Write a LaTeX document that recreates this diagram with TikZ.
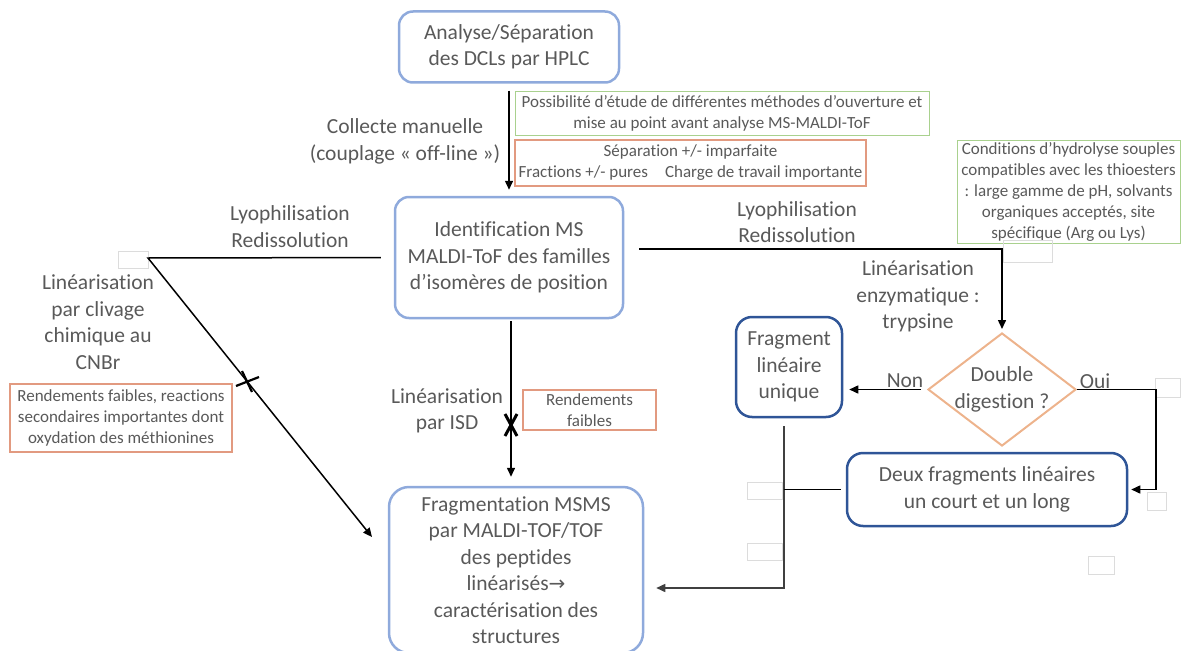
\documentclass[tikz,border=0pt]{standalone}
\usepackage{fontspec}
\setmainfont{Carlito}[Ligatures=NoCommon]
\newfontfamily\symbfont{DejaVu Sans}
\usetikzlibrary{arrows.meta,positioning,shapes.geometric}
\definecolor{txt}{HTML}{595959}
\definecolor{lblue}{HTML}{8FAADC}
\definecolor{dblue}{HTML}{2F5597}
\definecolor{okgreen}{HTML}{A9D18E}
\definecolor{warnred}{HTML}{E29A80}
\definecolor{tan}{HTML}{EDB38C}
\definecolor{ghost}{HTML}{DCDCDC}

\begin{document}
\begin{tikzpicture}[x=1pt, y=-1pt,
   every node/.style={text=txt},
   big/.style={font=\fontsize{21.5}{26.5}\selectfont, align=center},
   note/.style={font=\fontsize{17}{21}\selectfont, align=center},
   stepbox/.style={draw=lblue, line width=2.5pt, rounded corners=14pt, big, inner sep=0pt},
   fragbox/.style={draw=dblue, line width=2.5pt, rounded corners=16pt, big, inner sep=0pt},
   okbox/.style={draw=okgreen, line width=1pt, note, inner sep=0pt},
   badbox/.style={draw=warnred, line width=1.2pt, note, inner sep=0pt},
   ghostbox/.style={draw=ghost, line width=0.8pt, inner sep=0pt},
   arr/.style={-{Triangle[length=9pt,width=8pt]}, line width=1.5pt},
   line/.style={line width=1.5pt}]
   \useasboundingbox (0,0) rectangle (1182,650);

   % main steps
   \node[stepbox, minimum width=220, minimum height=71] (hplc) at (509,47) {Analyse/Séparation\\des DCLs par HPLC};
   \node[stepbox, minimum width=228, minimum height=121] (maldi) at (509,257.5) {Identification MS\\MALDI-ToF des familles\\d’isomères de position};
   \node[stepbox, rounded corners=20pt, minimum width=254, minimum height=166] (msms) at (516,570) {Fragmentation MSMS\\par MALDI-TOF/TOF\\des peptides\\linéarisés{\symbfont\fontsize{20}{26}\selectfont →}\\caractérisation des\\structures};
   \node[draw=tan, line width=2pt, diamond, minimum width=148, minimum height=113, inner sep=-16pt, big] (dbl) at (1002,389.5) {Double\\digestion ?};
   \node[fragbox, minimum width=106, minimum height=100] (uniq) at (789,367) {Fragment\\linéaire\\unique};
   \node[fragbox, minimum width=280, minimum height=73] (deux) at (987,489.5) {Deux fragments linéaires\\un court et un long};

   % remarks
   \node[okbox, minimum width=414, minimum height=43] (open) at (722,113.5) {Possibilité d’étude de différentes méthodes d’ouverture et\\mise au point avant analyse MS-MALDI-ToF};
   \node[badbox, minimum width=351, minimum height=46] (sep) at (690.5,163) {Séparation +/- imparfaite\\Fractions +/- pures\quad Charge de travail importante};
   \node[okbox, minimum width=223, minimum height=103] (soft) at (1068.5,191.5) {Conditions d’hydrolyse souples\\compatibles avec les thioesters\\: large gamme de pH, solvants\\organiques acceptés, site\\spécifique (Arg ou Lys)};
   \node[badbox, minimum width=222, minimum height=68] (cnbrbad) at (121,418) {Rendements faibles, reactions\\secondaires importantes dont\\oxydation des méthionines};
   \node[badbox, minimum width=133, minimum height=40] (isdbad) at (589.5,410) {Rendements\\faibles};

   % labels
   \node[big] (collect) at (405,141.5) {Collecte manuelle\\(couplage « off-line »)};
   \node[big] (lyoL) at (290,226.5) {Lyophilisation\\Redissolution};
   \node[big] (lyoR) at (797,222) {Lyophilisation\\Redissolution};
   \node[big] (cnbr) at (98,322) {Linéarisation\\par clivage\\chimique au\\CNBr};
   \node[big] (isd) at (447,411) {Linéarisation\\par ISD};
   \node[big] (tryp) at (918,296.5) {Linéarisation\\enzymatique :\\trypsine};
   \node[big] (non) at (905,381) {Non};
   \node[big] (oui) at (1095,381) {Oui};

   % empty boxes
   \node[ghostbox, minimum width=30, minimum height=17] (g1) at (133,259.5) {};
   \node[ghostbox, minimum width=49, minimum height=22] (g2) at (1027.5,251.5) {};
   \node[ghostbox, minimum width=25, minimum height=19] (g3) at (1168,387.5) {};
   \node[ghostbox, minimum width=19, minimum height=18] (g4) at (1156.5,501) {};
   \node[ghostbox, minimum width=35, minimum height=17] (g5) at (764.5,490.5) {};
   \node[ghostbox, minimum width=35, minimum height=17] (g6) at (764.5,551.5) {};
   \node[ghostbox, minimum width=26, minimum height=18] (g7) at (1101,565) {};

   % connectors
   \coordinate (lk) at (148,258);
   \coordinate (lf) at (372,537);
   \coordinate (rk) at (1002,249);
   \coordinate (ok) at (1156,389.5);
   \coordinate (fk) at (784,588);
   \draw[arr, shorten <=7pt, shorten >=6pt] (hplc) -- (maldi);
   \draw[arr, shorten <=13pt] (maldi.west) -- (lk) -- (lf);
   \draw[arr, shorten <=2pt, shorten >=9pt] ([xshift=2pt]maldi.south) -- ([xshift=2pt]maldi.south |- msms.north);
   \draw[arr, shorten <=15pt, shorten >=3pt] ([yshift=8.5pt]maldi.east) -- (rk) -- (dbl.north);
   \draw[arr, shorten <=6pt, shorten >=6pt] (dbl.west) -- (dbl.west -| uniq.east);
   \draw[arr, shorten >=3pt] (dbl.east) -- (ok) -- (ok |- deux.east) -- (deux.east);
   \draw[arr, black!75, shorten <=8pt, shorten >=12pt] (uniq.south -| fk) -- (fk) -- (fk -| msms.east);
   \draw[line, shorten <=5pt] (deux.west) -- (deux.west -| fk);

   % crosses
   \draw[line width=2.2pt] (236,386) -- (259,377) (242,371) -- (252,392);
   \draw[line width=3pt] (505,414) -- (517,436) (517,414) -- (505,436);
\end{tikzpicture}
\end{document}
